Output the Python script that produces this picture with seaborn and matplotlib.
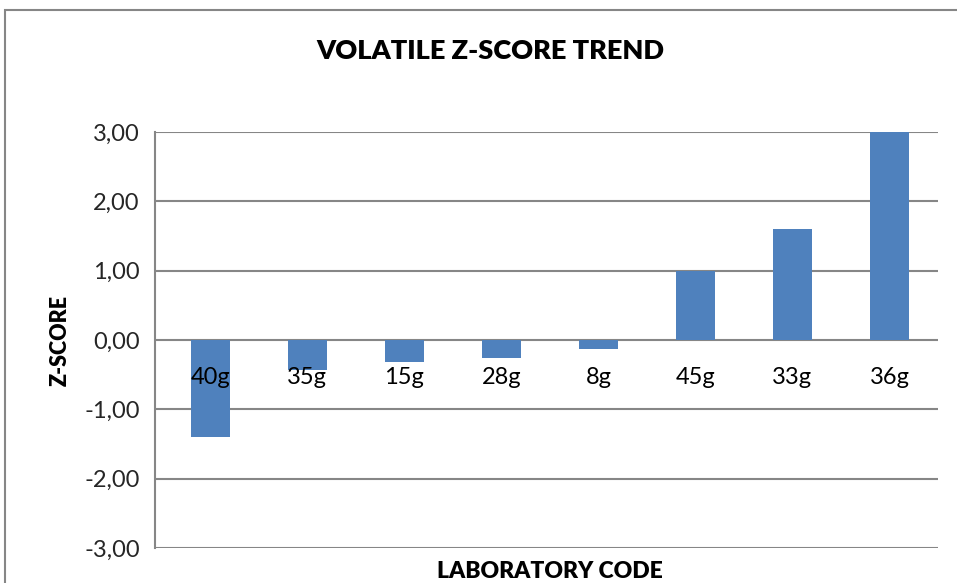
import numpy as np
import pandas as pd
import matplotlib
matplotlib.use('Agg')
import matplotlib.pyplot as plt
import seaborn as sns
from matplotlib.patches import Rectangle
from matplotlib.transforms import offset_copy

codes = ['40g', '35g', '15g', '28g', '8g', '45g', '33g', '36g']
zscores = [-1.40, -0.43, -0.32, -0.26, -0.13, 1.00, 1.60, 3.00]
yticks = [-3, -2, -1, 0, 1, 2, 3]
ytick_labels = ['-3,00', '-2,00', '-1,00', '0,00', '1,00', '2,00', '3,00']

df = pd.DataFrame({'code': codes, 'z': zscores})

sns.set_style('white')
plt.rcParams['font.family'] = ['Lato', 'DejaVu Sans']

fig = plt.figure(figsize=(9.57, 5.83), dpi=100)
ax = fig.add_axes([155/957, 1-548/583, (938-155)/957, (548-132)/583])

sns.barplot(data=df, x='code', y='z', color='#4F81BD', saturation=1,
            width=0.4, linewidth=0, ax=ax, zorder=3)

ax.set_ylim(-3, 3)
ax.set_xlim(-0.57, 7.5)
ax.set_yticks(yticks)
ax.set_yticklabels(ytick_labels, fontsize=17)
ax.yaxis.grid(True, color='#868686', linewidth=1.5, zorder=0)
ax.set_axisbelow(True)

for s in ['top', 'right', 'bottom']:
    ax.spines[s].set_visible(False)
ax.spines['left'].set_color('#868686')
ax.spines['left'].set_linewidth(1.5)
ax.tick_params(axis='y', length=5, width=1.5, color='#868686', pad=6)
ax.set_xticks([])

# category labels sit just under the zero line, on top of the bars
lab_tr = offset_copy(ax.transData, fig=fig, x=0, y=-37, units='dots')
for i, c in enumerate(codes):
    ax.text(i, 0, c, transform=lab_tr, fontsize=17, ha='center', va='center',
            color='black', zorder=6)

ax.set_xlabel('')
ax.set_ylabel('')
fig.text(60/957, 1-341/583, 'Z-SCORE', rotation=90, fontsize=15.5, fontweight='heavy',
         ha='center', va='center', color='black')
fig.text(550/957, 1-571/583, 'LABORATORY CODE', fontsize=16.5, fontweight='heavy',
         ha='center', va='center', color='black')
fig.text(490/957, 1-51/583, 'VOLATILE Z-SCORE TREND', fontsize=19.5, fontweight='heavy',
         ha='center', va='center', color='black')

# outer chart border
fig.patches.append(Rectangle((5/957, -0.1), 1.2, 1.1 - 10/583,
                             transform=fig.transFigure, fill=False,
                             edgecolor='#868686', linewidth=1.5))

fig.savefig('out.png', dpi=100)
